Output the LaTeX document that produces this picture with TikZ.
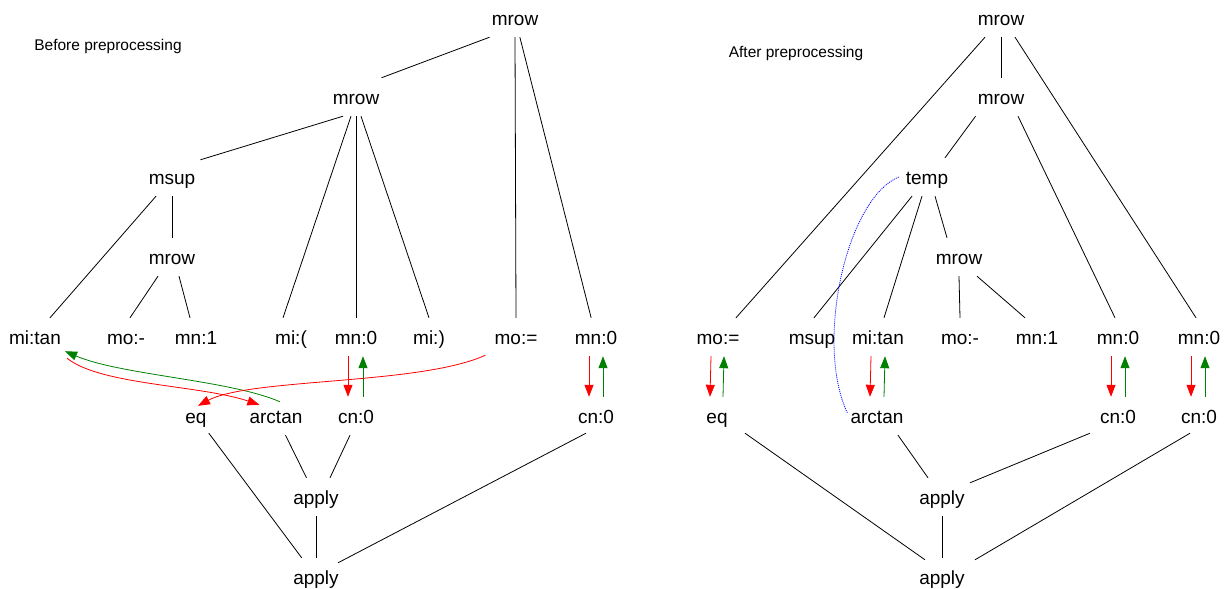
\documentclass[tikz,border=0pt]{standalone}
\usepackage{fontspec}
\setmainfont{Liberation Sans}
\usetikzlibrary{arrows.meta}
\begin{document}
\begin{tikzpicture}[x=1pt,y=-1pt,
  lbl/.style={font=\fontsize{19}{22}\selectfont, text height=14pt, text depth=0pt, minimum height=38pt, inner xsep=2pt, inner ysep=0pt},
  ttl/.style={font=\fontsize{15.5}{18}\selectfont, inner sep=0pt},
  edge/.style={line width=0.8pt, black},
  tip/.style={-{Triangle[length=12pt,width=9pt]}, line width=0.8pt},
  fw/.style={tip, red},
  bw/.style={tip, green!50!black},
  link/.style={blue, line width=0.8pt, dash pattern=on 1pt off 1pt}]
\useasboundingbox (0,0) rectangle (1229,589);
% ---------- left ----------
\node[ttl] (ltitle) at (108,46) {Before preprocessing};
\node[lbl] (lmrow) at (515,18) {mrow};
\node[lbl] (lmrowb) at (356,97) {mrow};
\node[lbl] (lmsup) at (172,177) {msup};
\node[lbl] (lmrowc) at (172,257) {mrow};
\node[lbl] (lmitan) at (35,337) {mi:tan};
\node[lbl] (lmominus) at (126,337) {mo:-};
\node[lbl] (lmn1) at (196,337) {mn:1};
\node[lbl] (lmilp) at (291,337) {mi:(};
\node[lbl] (lmn0) at (356,337) {mn:0};
\node[lbl] (lmirp) at (429,337) {mi:)};
\node[lbl] (lmoeq) at (516,337) {mo:=};
\node[lbl] (lmn0b) at (596,337) {mn:0};
\node[lbl] (leq) at (196,416) {eq};
\node[lbl] (larctan) at (276,416) {arctan};
\node[lbl] (lcn0) at (356,416) {cn:0};
\node[lbl] (lcn0b) at (596,416) {cn:0};
\node[lbl] (lapply) at (316,497) {apply};
\node[lbl] (lapplyb) at (316,577) {apply};

\draw[edge] (lmrow.south west) -- (lmrowb.north east);
\draw[edge] (lmrow.south) -- (lmoeq.north);
\draw[edge] (lmrow) -- (lmn0b);
\draw[edge] ([xshift=-13pt]lmrowb.south) -- ([xshift=3pt,yshift=-2pt]lmsup.north east);
\draw[edge] ([xshift=-5pt]lmrowb.south) -- ([xshift=-8pt]lmilp.north);
\draw[edge] (lmrowb.south) -- (lmn0.north);
\draw[edge] ([xshift=5pt]lmrowb.south) -- (lmirp.north);
\draw[edge] ([xshift=-16pt]lmsup.south) -- ([xshift=15pt]lmitan.north);
\draw[edge] (lmsup.south) -- (lmrowc.north);
\draw[edge] ([xshift=-14pt]lmrowc.south) -- ([xshift=4pt]lmominus.north);
\draw[edge] ([xshift=7pt]lmrowc.south) -- ([xshift=-6pt]lmn1.north);
\draw[edge] (leq) -- (lapplyb);
\draw[edge] (larctan) -- (lapply);
\draw[edge] ([xshift=-6pt]lcn0.south) -- ([xshift=14pt]lapply.north);
\draw[edge] (lapply) -- (lapplyb);
\draw[edge] ([xshift=-10pt,yshift=2pt]lcn0b.south) -- ([xshift=22pt,yshift=-5pt]lapplyb.north);

\draw[fw] ([xshift=-8pt]lmn0.south) -- ([xshift=-8pt]lcn0.north);
\draw[bw] ([xshift=7pt]lcn0.north) -- ([xshift=7pt]lmn0.south);
\draw[fw] ([xshift=-7pt]lmn0b.south) -- ([xshift=-7pt]lcn0b.north);
\draw[bw] ([xshift=7pt]lcn0b.north) -- ([xshift=7pt]lmn0b.south);
\draw[fw] ([xshift=4pt,yshift=-2pt]lmitan.south east) .. controls (100,385) and (200,385) .. ([xshift=12pt,yshift=-8pt]larctan.north west);
\draw[bw] ([xshift=4pt,yshift=-5pt]larctan.north) .. controls (230,380) and (120,375) .. ([xshift=2pt,yshift=5pt]lmitan.south east);
\draw[fw] ([xshift=-7pt,yshift=1pt]lmoeq.south west) .. controls (420,385) and (250,378) .. ([xshift=2pt,yshift=-9pt]leq.north);

% ---------- right ----------
\node[ttl] (rtitle) at (796,53) {After preprocessing};
\node[lbl] (rmrow) at (1001,18) {mrow};
\node[lbl] (rmrowb) at (1001,97) {mrow};
\node[lbl] (rtemp) at (927,177) {temp};
\node[lbl] (rmrowc) at (959,257) {mrow};
\node[lbl] (rmoeq) at (718,337) {mo:=};
\node[lbl] (rmsup) at (812,337) {msup};
\node[lbl] (rmitan) at (878,337) {mi:tan};
\node[lbl] (rmominus) at (960,337) {mo:-};
\node[lbl] (rmn1) at (1037,337) {mn:1};
\node[lbl] (rmn0) at (1118,337) {mn:0};
\node[lbl] (rmn0b) at (1199,337) {mn:0};
\node[lbl] (req) at (717,416) {eq};
\node[lbl] (rarctan) at (877,416) {arctan};
\node[lbl] (rcn0) at (1118,416) {cn:0};
\node[lbl] (rcn0b) at (1199,416) {cn:0};
\node[lbl] (rapply) at (942,497) {apply};
\node[lbl] (rapplyb) at (942,577) {apply};

\draw[edge] ([xshift=-16pt]rmrow.south) -- ([xshift=18pt]rmoeq.north);
\draw[edge] (rmrow.south) -- (rmrowb.north);
\draw[edge] ([xshift=14pt]rmrow.south) -- ([xshift=-3pt]rmn0b.north);
\draw[edge] (rmrowb.south west) -- ([xshift=18pt]rtemp.north);
\draw[edge] ([xshift=17pt]rmrowb.south) -- ([xshift=-3pt]rmn0.north);
\draw[edge] ([xshift=-15pt]rtemp.south) -- ([xshift=2pt]rmsup.north);
\draw[edge] ([xshift=-5pt]rtemp.south) -- ([xshift=6pt]rmitan.north);
\draw[edge] ([xshift=8pt]rtemp.south) -- ([xshift=-12pt]rmrowc.north);
\draw[edge] (rmrowc.south) -- (rmominus.north);
\draw[edge] ([xshift=18pt]rmrowc.south) -- ([xshift=-12pt]rmn1.north);
\draw[edge] ([xshift=28pt,yshift=2pt]req.south) -- ([xshift=-17pt,yshift=-2pt]rapplyb.north);
\draw[edge] ([xshift=21pt]rarctan.south) -- ([xshift=-14pt]rapply.north);
\draw[edge] ([xshift=-28pt,yshift=2pt]rcn0.south) -- ([xshift=28pt,yshift=-5pt]rapply.north);
\draw[edge] (rapply) -- (rapplyb);
\draw[edge] ([xshift=-9pt,yshift=2pt]rcn0b.south) -- ([xshift=33pt,yshift=-2pt]rapplyb.north);

\draw[link] ([xshift=-5pt]rtemp.west) .. controls (845,200) and (815,345) .. ([xshift=-1pt,yshift=3pt]rarctan.west);

\draw[fw] ([xshift=-7pt]rmoeq.south) -- ([xshift=-7pt]req.north);
\draw[bw] ([xshift=6pt]req.north) -- ([xshift=6pt]rmoeq.south);
\draw[fw] ([xshift=-7pt]rmitan.south) -- ([xshift=-7pt]rarctan.north);
\draw[bw] ([xshift=7pt]rarctan.north) -- ([xshift=7pt]rmitan.south);
\draw[fw] ([xshift=-7pt]rmn0.south) -- ([xshift=-7pt]rcn0.north);
\draw[bw] ([xshift=7pt]rcn0.north) -- ([xshift=7pt]rmn0.south);
\draw[fw] ([xshift=-8pt]rmn0b.south) -- ([xshift=-8pt]rcn0b.north);
\draw[bw] ([xshift=6pt]rcn0b.north) -- ([xshift=6pt]rmn0b.south);
\end{tikzpicture}
\end{document}
